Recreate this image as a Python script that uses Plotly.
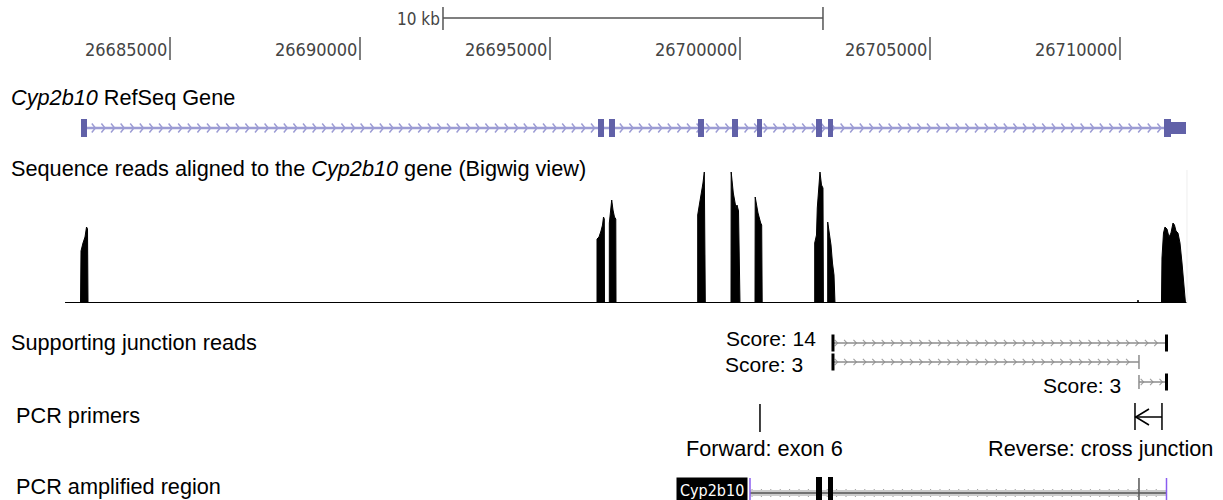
import plotly.graph_objects as go

# ---------------- data (genomic coordinates, chr position in bp) ----------------
RULER_TICKS = [26685000, 26690000, 26695000, 26700000, 26705000, 26710000]
SCALE_BAR_START = 26692184
SCALE_BAR_LEN = 10000
SCALE_BAR_LABEL = "10 kb"

GENE_NAME = "Cyp2b10"
EXON_STARTS = [26682658, 26696263, 26696553, 26698895, 26699789, 26700447, 26702000, 26702316, 26711158]
EXON_ENDS = [26682816, 26696421, 26696710, 26699053, 26699947, 26700579, 26702158, 26702447, 26711737]
CDS_END = 26711342

# Bigwig read coverage profile (position, depth)
COV_POS = [
    26682645, 26682658, 26682710, 26682763, 26682803, 26682829, 26682842,
    26696237, 26696237, 26696289, 26696342, 26696382, 26696408, 26696429, 26696434,
    26696561, 26696561, 26696592, 26696624, 26696658, 26696697, 26696732, 26696737,
    26698887, 26698887, 26698921, 26698992, 26699026, 26699061, 26699087,
    26699763, 26699768, 26699824, 26699895, 26699921, 26699961, 26700000,
    26700395, 26700400, 26700474, 26700545, 26700571, 26700584,
    26701966, 26701966, 26702013, 26702034, 26702079, 26702105, 26702145, 26702184, 26702195,
    26702308, 26702308, 26702355, 26702395, 26702434, 26702474, 26702500,
    26710461, 26710474, 26710487,
    26711092, 26711105, 26711145, 26711184, 26711237, 26711290, 26711342, 26711395,
    26711434, 26711474, 26711526, 26711579, 26711632, 26711684, 26711724,
]
COV_VAL = [
    0, 52, 60, 66, 76, 74, 0,
    0, 64, 66, 72, 78, 86, 84, 0,
    0, 80, 92, 103, 93, 86, 84, 0,
    0, 88, 96, 110, 120, 131, 0,
    0, 131, 110, 95, 98, 92, 0,
    0, 106, 90, 80, 78, 0,
    0, 60, 68, 95, 115, 131, 118, 115, 0,
    0, 81, 70, 58, 40, 28, 0,
    0, 3, 0,
    0, 45, 70, 76, 74, 66, 70, 80,
    78, 72, 70, 60, 40, 18, 0,
]
COV_TRACK_START = 26682237
COV_TRACK_END = 26711763

JUNC_START = [26702447, 26702447, 26710500]
JUNC_END = [26711224, 26710500, 26711224]
JUNC_SCORE = [14, 3, 3]
NOVEL_SITE = 26710500

FWD_PRIMER_POS = 26700526
FWD_LABEL = "Forward: exon 6"
REV_PRIMER_START = 26710395
REV_PRIMER_END = 26711105
REV_LABEL = "Reverse: cross junction"

PCR_START = 26700263
PCR_END = 26711224
PCR_EXONS = [6, 7]  # indices into gene exons covered by amplicon

# ---------------- view / style ----------------
X0, X1 = 26680526, 26712711
BP_PER_PX = 26.316
W, H = 1223, 500
LABEL_FONT = "Liberation Sans, Arial, Helvetica, sans-serif"
LABEL_SIZE = 21.7
NARROW_FONT = "Liberation Sans Narrow, Arial Narrow, DejaVu Sans Condensed, sans-serif"
EXON_COLOR = "#6161a8"
INTRON_COLOR = "#9c9cd4"

fig = go.Figure()
shapes = []
annotations = []


def px(n):
    return n * BP_PER_PX


def line(x0, y0, x1, y1, color, width, yref="y"):
    shapes.append(dict(type="line", xref="x", yref=yref, x0=x0, x1=x1, y0=y0, y1=y1,
                       line=dict(color=color, width=width)))


def rect(x0, x1, y0, y1, color):
    shapes.append(dict(type="rect", xref="x", yref="y", x0=x0, x1=x1, y0=y0, y1=y1,
                       fillcolor=color, line=dict(width=0)))


def chevrons(x0, x1, y, step, w, h):
    xs, ys = [], []
    p = x0 + step / 2
    while p < x1 - step / 3:
        xs += [p - w, p, p - w, None]
        ys += [y - h, y, y + h, None]
        p += step
    return xs, ys


def text(x, y, s, size=LABEL_SIZE, xanchor="left", xref="x", color="#000", font=LABEL_FONT, xshift=0, **kw):
    annotations.append(dict(x=x, y=y, xref=xref, yref="y", text=s, showarrow=False,
                            xanchor=xanchor, yanchor="middle", xshift=xshift,
                            font=dict(family=font, size=size, color=color), **kw))


# ---- ruler ----
for t in RULER_TICKS:
    line(t, 37, t, 60, "#555", 1.5)
    text(t, 49, str(t), size=18, xanchor="right", font=NARROW_FONT, color="#444", xshift=-1)
line(SCALE_BAR_START, 18, SCALE_BAR_START + SCALE_BAR_LEN, 18, "#555", 1.5)
line(SCALE_BAR_START, 7, SCALE_BAR_START, 30, "#555", 1.5)
line(SCALE_BAR_START + SCALE_BAR_LEN, 7, SCALE_BAR_START + SCALE_BAR_LEN, 30, "#555", 1.5)
text(SCALE_BAR_START, 19, SCALE_BAR_LABEL, size=17, xanchor="right", font=NARROW_FONT, color="#444", xshift=-1)

# ---- track titles ----
text(9 / W, 97, f"<i>{GENE_NAME}</i> RefSeq Gene", xref="paper")
text(9 / W, 168, f"Sequence reads aligned to the <i>{GENE_NAME}</i> gene (Bigwig view)", xref="paper")
text(9 / W, 342, "Supporting junction reads", xref="paper")
text(14 / W, 415, "PCR primers", xref="paper")
text(14 / W, 486, "PCR amplified region", xref="paper")

# ---- RefSeq gene ----
GY = 128
gs, ge = EXON_STARTS[0], EXON_ENDS[-1]
fig.add_trace(go.Scatter(x=[gs, ge], y=[GY, GY], mode="lines", yaxis="y",
                         line=dict(color=INTRON_COLOR, width=2.5), hoverinfo="skip", showlegend=False))
cx, cy = chevrons(gs, ge, GY, px(9.6), px(3.6), 4.5)
fig.add_trace(go.Scatter(x=cx, y=cy, mode="lines", line=dict(color=INTRON_COLOR, width=1.5),
                         hoverinfo="skip", showlegend=False))
for s, e in zip(EXON_STARTS, EXON_ENDS):
    if e > CDS_END > s:
        rect(s, CDS_END, GY - 9, GY + 9, EXON_COLOR)
        rect(CDS_END, e, GY - 6, GY + 6, EXON_COLOR)
    else:
        rect(s, e, GY - 9, GY + 9, EXON_COLOR)

# ---- Bigwig coverage ----
fig.add_trace(go.Scatter(x=COV_POS, y=COV_VAL, mode="lines", yaxis="y2", fill="tozeroy",
                         fillcolor="#000", line=dict(color="#000", width=1),
                         hoverinfo="skip", showlegend=False))
line(COV_TRACK_START, 0, COV_TRACK_END, 0, "#000", 2, yref="y2")
line(COV_TRACK_END, 0, COV_TRACK_END, 133, "#eeeeee", 1, yref="y2")

# ---- junction reads ----
JROWS = [343, 362, 382]
LABEL_SHIFT = [-16, -29, -17]
LABEL_Y = [338.5, 364, 385]
for i, (s, e, sc) in enumerate(zip(JUNC_START, JUNC_END, JUNC_SCORE)):
    y = JROWS[i]
    line(s, y, e, y, "#8c8c8c", 1.5)
    cx, cy = chevrons(s, e, y, px(9.4), px(3.0), 3.2)
    fig.add_trace(go.Scatter(x=cx, y=cy, mode="lines", line=dict(color="#a0a0a0", width=1.1),
                             hoverinfo="skip", showlegend=False))
    for p in (s, e):
        if p == NOVEL_SITE:
            line(p, y - 7, p, y + 7, "#8c8c8c", 1.5)
        else:
            line(p, y - 8.5, p, y + 8.5, "#000", 3)
    text(s, LABEL_Y[i], f"Score: {sc}", size=21, xanchor="right", xshift=LABEL_SHIFT[i], borderpad=0)

# ---- PCR primers ----
line(FWD_PRIMER_POS, 404, FWD_PRIMER_POS, 432, "#000", 1.5)
text(FWD_PRIMER_POS, 448, FWD_LABEL, xanchor="center", xshift=5)
PY = 417
line(REV_PRIMER_START, 403, REV_PRIMER_START, 430, "#000", 1.5)
line(REV_PRIMER_END, 403, REV_PRIMER_END, 430, "#000", 1.5)
line(REV_PRIMER_START, PY, REV_PRIMER_END, PY, "#000", 1.5)
fig.add_trace(go.Scatter(x=[REV_PRIMER_START + px(14), REV_PRIMER_START + px(0.8), REV_PRIMER_START + px(14)],
                         y=[PY - 8, PY, PY + 8], mode="lines", line=dict(color="#000", width=1.6),
                         hoverinfo="skip", showlegend=False))
text((REV_PRIMER_START + REV_PRIMER_END) / 2, 448, REV_LABEL, xanchor="center", xshift=-48)

# ---- PCR amplified region ----
AY = 493
line(PCR_START, AY, PCR_END, AY, "#cccccc", 6)
line(PCR_START, AY, PCR_END, AY, "#555555", 1.5)
cx, cy = chevrons(PCR_START, PCR_END, AY, px(9.4), px(3.0), 3.5)
fig.add_trace(go.Scatter(x=cx, y=cy, mode="lines", line=dict(color="#666", width=1.1),
                         hoverinfo="skip", showlegend=False))
for k in PCR_EXONS:
    rect(EXON_STARTS[k], EXON_ENDS[k], 477, 502, "#000")
line(NOVEL_SITE, 478, NOVEL_SITE, 502, "#555", 1.5)
line(PCR_START, 478, PCR_START, 502, "#8a5cf0", 1.5)
line(PCR_END, 478, PCR_END, 502, "#8a5cf0", 1.5)
annotations.append(dict(x=PCR_START, y=477, xref="x", yref="y", text=GENE_NAME, showarrow=False,
                        xanchor="right", yanchor="top", xshift=-2, bgcolor="#000", borderpad=3,
                        font=dict(family=NARROW_FONT, size=16, color="#fff")))

fig.update_layout(
    width=W, height=H, margin=dict(l=0, r=0, t=0, b=0),
    paper_bgcolor="#fff", plot_bgcolor="rgba(0,0,0,0)",
    xaxis=dict(range=[X0, X1], domain=[0, 1], visible=False, fixedrange=True),
    yaxis=dict(range=[H, 0], domain=[0, 1], visible=False, fixedrange=True),
    yaxis2=dict(range=[0, 140], domain=[1 - 303 / H, 1 - 163 / H], anchor="x",
                visible=False, fixedrange=True),
    shapes=shapes, annotations=annotations, showlegend=False,
)

fig.write_html("out.html", config={"displayModeBar": False},
               post_script="document.body.style.margin='0';document.body.style.overflow='hidden';")
